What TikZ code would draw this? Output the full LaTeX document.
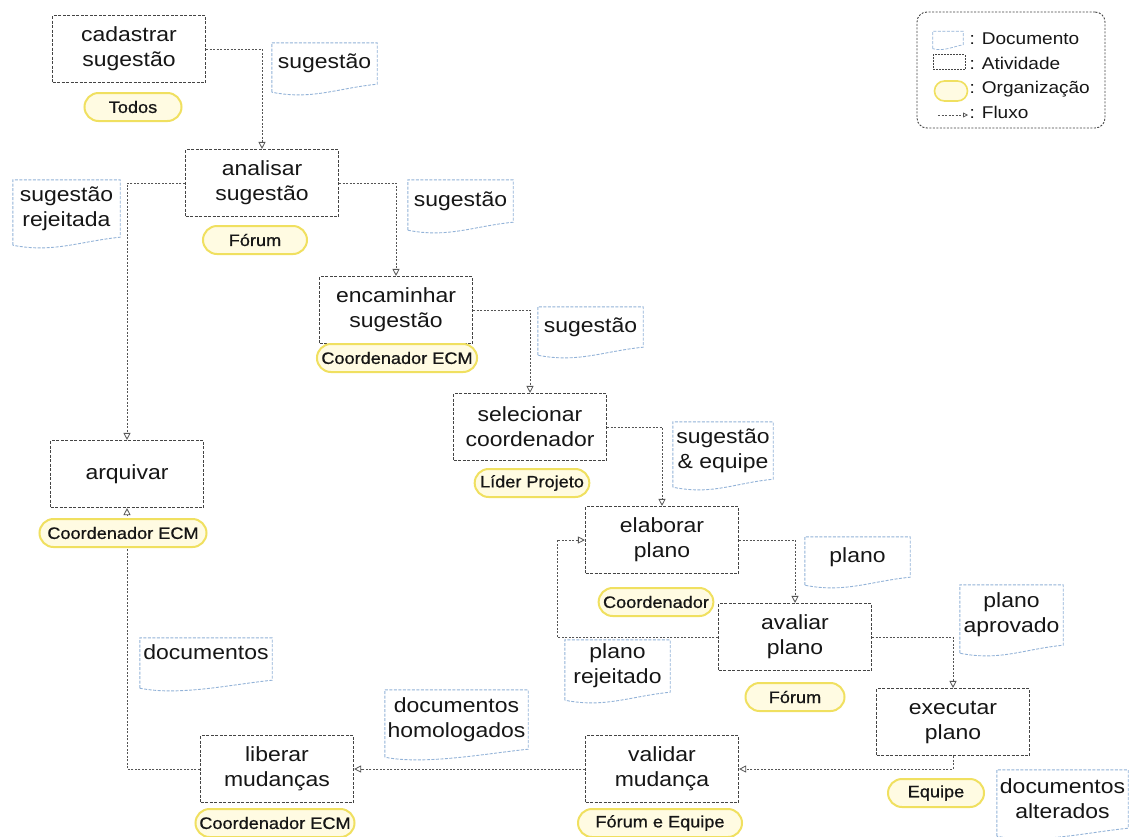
\documentclass[tikz,border=0pt]{standalone}
\usepackage{fontspec}
\setmainfont{Liberation Sans}[FakeStretch=1.12]
\newfontfamily\orgfont{Liberation Sans}[FakeStretch=1.1, FakeBold=0.8]
\usetikzlibrary{arrows.meta,shapes.misc}
\pgfdeclarelayer{paper}
\pgfdeclarelayer{background}
\pgfsetlayers{paper,background,main}

\definecolor{inkc}{HTML}{161616}
\definecolor{actline}{HTML}{444444}
\definecolor{flowline}{HTML}{555555}
\definecolor{docc}{HTML}{93B3D8}
\definecolor{orgline}{HTML}{F0E060}
\definecolor{orgfill}{HTML}{FFFBE2}

% outline of a document: right edge ends #2 below the node, left edge 8 lower,
% joined by a wavy bottom
\newcommand\docframe[2]{%
  \draw[docline] ([yshift=-#2-8]#1.south west) -- (#1.north west) -- (#1.north east)
    -- ([yshift=-#2]#1.south east)
    .. controls ([xshift=-40,yshift=-#2-4]#1.south east)
       and ([xshift=40,yshift=-#2-16]#1.south west) .. ([yshift=-#2-8]#1.south west);}

\tikzset{
  boxfont/.style={font=\fontsize{20.5}{25}\selectfont},
  act/.style={boxfont, draw=actline, line width=1.1pt, dash pattern=on 3pt off 1.5pt,
    minimum width=153pt, minimum height=67pt, align=center, text=inkc, inner sep=2pt},
  org/.style={rounded rectangle, draw=orgline, line width=2pt, fill=orgfill,
    minimum height=28pt, inner xsep=3pt, inner ysep=1pt, text=inkc,
    font=\orgfont\fontsize{16.5}{20}\selectfont},
  doc/.style={boxfont, align=center, text=inkc, inner sep=1pt},
  docline/.style={draw=docc, line width=0.9pt, dash pattern=on 3pt off 1.5pt},
  flow/.style={draw=flowline, line width=0.8pt, dash pattern=on 2pt off 1.5pt,
    -{Triangle[open,length=7pt,width=7pt]}},
  legtext/.style={anchor=base west, text=inkc, font=\fontsize{17}{20}\selectfont},
}

\begin{document}
\begin{tikzpicture}[x=1pt,y=-1pt]
\begin{pgfonlayer}{paper}
\fill[white] (0,0) rectangle (1130,836);
\end{pgfonlayer}
\useasboundingbox (0,0) rectangle (1130,836);

% activities
\node[act] (a1) at (129,49) {cadastrar\\sugestão};
\node[act] (a2) at (262,183) {analisar\\sugestão};
\node[act] (a3) at (396,310) {encaminhar\\sugestão};
\node[act] (a4) at (530,427) {selecionar\\coordenador};
\node[act] (a5) at (127,474) {arquivar};
\node[act] (a6) at (662,540) {elaborar\\plano};
\node[act] (a7) at (795,637) {avaliar\\plano};
\node[act] (a8) at (953,722) {executar\\plano};
\node[act] (a9) at (662,769) {validar\\mudança};
\node[act] (a10) at (277,769) {liberar\\mudanças};

% organizations
\node[org, minimum width=103pt] (o1) at (133,107) {Todos};
\node[org, minimum width=110pt] (o2) at (255,240) {Fórum};
\node[org, minimum width=159pt] (o3) at (397,358) {Coordenador ECM};
\node[org, minimum width=109pt] (o4) at (532,483) {Líder Projeto};
\node[org, minimum width=173pt] (o5) at (123,533) {Coordenador ECM};
\node[org, minimum width=113pt] (o6) at (656,602) {Coordenador};
\node[org, minimum width=105pt] (o7) at (795,697) {Fórum};
\node[org, minimum width=102pt] (o8) at (936,793) {Equipe};
\node[org, minimum width=170pt] (o9) at (660,823) {Fórum e Equipe};
\node[org, minimum width=165pt] (o10) at (275,823) {Coordenador ECM};

% documents
\node[doc, minimum width=105pt, minimum height=41pt] (d1) at (324.5,63.5) {sugestão};
\node[doc, minimum width=105pt, minimum height=42pt] (d2) at (460.5,201) {sugestão};
\node[doc, minimum width=105pt, minimum height=40pt] (d3) at (590.5,327) {sugestão};
\node[doc, minimum width=100pt, minimum height=57pt] (d4) at (723,450.5) {sugestão\\\& equipe};
\node[doc, minimum width=107pt, minimum height=57pt] (d5) at (66.5,208.5) {sugestão\\rejeitada};
\node[doc, minimum width=105pt, minimum height=40pt] (d6) at (857.5,557) {plano};
\node[doc, minimum width=105pt, minimum height=52pt] (d7) at (617.5,666) {plano\\rejeitado};
\node[doc, minimum width=103pt, minimum height=60pt] (d8) at (1011.5,615) {plano\\aprovado};
\node[doc, minimum width=132pt, minimum height=28pt] (d9) at (206,652) {documentos};
\node[doc, minimum width=143pt, minimum height=59pt] (d10) at (456.5,719.5) {documentos\\homologados};
\node[doc, minimum width=131pt, minimum height=58pt] (d11) at (1062.5,799) {documentos\\alterados};
\docframe{d1}{0}
\docframe{d2}{0}
\docframe{d3}{0}
\docframe{d4}{0}
\docframe{d5}{0}
\docframe{d6}{0}
\docframe{d7}{0}
\docframe{d8}{0}
\docframe{d9}{14}
\docframe{d10}{0}
\docframe{d11}{0}

% flow
\coordinate (rj) at (557,637);
\begin{pgfonlayer}{background}
\draw[flow] (a1.east) -| (a2.north);
\draw[flow] (a2.east) -| (a3.north);
\draw[flow] (a3.east) -| (a4.north);
\draw[flow] (a4.east) -| (a6.north);
\draw[flow] (a6.east) -| (a7.north);
\draw[flow] (a7.east) -| (a8.north);
\draw[flow] (a8.south) |- (a9.east);
\draw[flow] (a9.west) -- (a10.east);
\draw[flow] (a10.west) -| (a5.south);
\draw[flow] (a2.west) -| (a5.north);
\draw[flow] (a7.west) -- (rj) |- (a6.west);
\end{pgfonlayer}

% legend
\node[draw=actline, line width=0.9pt, dash pattern=on 2pt off 1.5pt, rounded corners=10pt,
  minimum width=188pt, minimum height=116pt] (legend) at (1011,70) {};
\node[minimum width=30pt, minimum height=13pt, inner sep=0pt] (lg1) at (948,38) {};
\draw[docline, line width=0.7pt] ([yshift=-4]lg1.south west) -- (lg1.north west) -- (lg1.north east)
  -- (lg1.south east) .. controls ([xshift=-10,yshift=-2]lg1.south east)
  and ([xshift=10,yshift=-7]lg1.south west) .. ([yshift=-4]lg1.south west);
\node[draw=actline, line width=0.8pt, dash pattern=on 2pt off 1pt,
  minimum width=32pt, minimum height=15pt, inner sep=0pt] (lg2) at (949,62) {};
\node[rounded rectangle, draw=orgline, fill=orgfill, line width=1.6pt,
  minimum width=33pt, minimum height=20pt, inner sep=0pt] (lg3) at (951,91) {};
\coordinate (lg4a) at (938,115);
\coordinate (lg4b) at (968,115);
\draw[flow, -{Triangle[open,length=5pt,width=5pt]}] (lg4a) -- (lg4b);
\node[legtext] (lt1) at (966,44) {: Documento};
\node[legtext] (lt2) at (966,69) {: Atividade};
\node[legtext] (lt3) at (966,93) {: Organização};
\node[legtext] (lt4) at (966,118) {: Fluxo};
\end{tikzpicture}
\end{document}
